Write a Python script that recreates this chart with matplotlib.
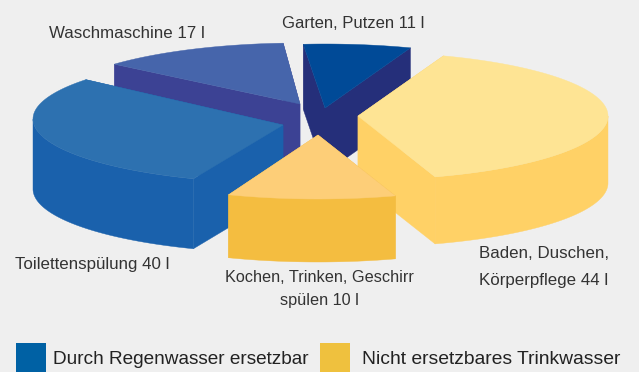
import numpy as np
import matplotlib
matplotlib.use('Agg')
import matplotlib.pyplot as plt
from matplotlib.patches import Polygon, Rectangle

#### data, litres per person and day ####
names = ['Waschmaschine', 'Garten, Putzen', 'Toilettenspülung', 'Baden, Duschen', 'Kochen']
litres = np.array([17, 11, 40, 44, 10])
deg_per_litre = 360. / 122

# the original artwork is not true to its numbers, slices are stretched to fit it
stretch = np.array([0.88, 0.77, 0.906, 1.094, 1.32])
start = np.array([138., 95., -111., 70., -72.])   # clockwise from here

#### look of the slices, in picture pixels ####
apex_x = [300, 325, 283, 358, 318]
apex_y = [104, 108, 125, 116, 135]
arc_y = [107, 108, 119, 116, 135]
depth = [65, 65, 70, 67, 63]
rx = 250.
ry = 64.

top_col = ['#4665ab', '#004a97', '#2d71b0', '#fee494', '#fdce78']
side_col = ['#3c4294', '#252f7a', '#1a61ac', '#ffd166', '#f4bd40']

bg = '#efefef'
txt = '#333333'
font = 'Liberation Sans'

fig = plt.figure(figsize=(6.39, 3.72), dpi=100, facecolor=bg)
ax = fig.add_axes([0, 0, 1, 1])
ax.set_xlim(0, 639)
ax.set_ylim(372, 0)
ax.axis('off')


def slice3d(i):
    span = litres[i] * deg_per_litre * stretch[i]
    t = np.radians(np.linspace(start[i], start[i] - span, 500))
    x = apex_x[i] + rx * np.cos(t)
    y = arc_y[i] - ry * np.sin(t)
    d = depth[i]
    ax0, ay0 = apex_x[i], apex_y[i]

    # both cut faces first, then the outer wall, the top goes over all of it
    for j in [0, -1]:
        face = [(ax0, ay0), (x[j], y[j]), (x[j], y[j] + d), (ax0, ay0 + d)]
        ax.add_patch(Polygon(face, fc=side_col[i], ec=side_col[i], lw=0.3))
    low = np.sin(t) <= 0
    if low.sum() > 1:
        wall = list(zip(x[low], y[low])) + list(zip(x[low][::-1], y[low][::-1] + d))
        ax.add_patch(Polygon(wall, fc=side_col[i], ec=side_col[i], lw=0.3))
    top = [(ax0, ay0)] + list(zip(x, y))
    ax.add_patch(Polygon(top, fc=top_col[i], ec=top_col[i], lw=0.3))


for i in range(5):
    slice3d(i)

#### labels ####
fs = 12.2
ax.text(49, 33, f'{names[0]} {litres[0]} l', family=font, fontsize=fs, color=txt, va='center')
ax.text(282, 23, f'{names[1]} {litres[1]} l', family=font, fontsize=12, color=txt, va='center')
ax.text(15, 265, f'{names[2]} {litres[2]} l', family=font, fontsize=fs, color=txt, va='center')
ax.text(319, 277, 'Kochen, Trinken, Geschirr', family=font, fontsize=11.7, color=txt, va='center', ha='center')
ax.text(319, 301, f'spülen {litres[4]} l', family=font, fontsize=11.7, color=txt, va='center', ha='center')
ax.text(544, 254, 'Baden, Duschen,', family=font, fontsize=fs, color=txt, va='center', ha='center')
ax.text(544, 280, f'Körperpflege {litres[3]} l', family=font, fontsize=fs, color=txt, va='center', ha='center')

#### legend ####
ax.add_patch(Rectangle((16, 343), 30, 29, fc='#0061a4', ec='none'))
ax.add_patch(Rectangle((320, 343), 30, 29, fc='#efc13e', ec='none'))
ax.text(53, 359, 'Durch Regenwasser ersetzbar', family=font, fontsize=13.7, color='#222222', va='center')
ax.text(362, 359, 'Nicht ersetzbares Trinkwasser', family=font, fontsize=13.9, color='#222222', va='center')

plt.savefig('out.png', dpi=100, facecolor=bg)
